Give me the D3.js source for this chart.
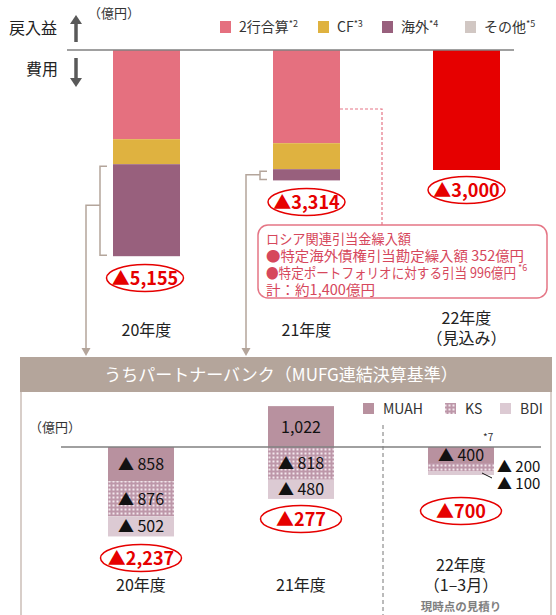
<!DOCTYPE html>
<meta charset="utf-8">
<style>
body { margin: 0; background: #fff; }
text { font-family: "Noto Sans CJK JP", "Noto Sans", sans-serif; }
</style>
<body>
<script src="https://cdn.jsdelivr.net/npm/d3@7"></script>
<script>

// ---- top chart data (億円, negative = 費用)
var years = ["20年度", "21年度", "22年度"];
var yearSub = ["", "", "（見込み）"];
var twoBanks = [-2230, -2330, 0];
var cf = [-625, -650, 0];
var overseas = [-2300, -280, 0];
var others = [0, 0, 0];
var plan = [0, 0, -3000];
var topTotals = [-5155, -3314, -3000];

var topSeries = [
  {name: "2行合算", note: "*2", color: "#e5707f", values: twoBanks},
  {name: "CF", note: "*3", color: "#dfb240", values: cf},
  {name: "海外", note: "*4", color: "#98607d", values: overseas},
  {name: "その他", note: "*5", color: "#d1c7c3", values: others}
];

// ---- partner bank data
var pbYears = ["20年度", "21年度", "22年度"];
var muah = [-858, 1022, -400];
var ks = [-876, -818, -200];
var bdi = [-502, -480, -100];
var pbTotals = [-2237, -277, -700];

var pbSeries = [
  {name: "MUAH", fill: "#b8919f", values: muah},
  {name: "KS", fill: "url(#dots)", values: ks},
  {name: "BDI", fill: "#dccad3", values: bdi}
];

var callout = [
  "ロシア関連引当金繰入額",
  "●特定海外債権引当勘定繰入額 352億円",
  "●特定ポートフォリオに対する引当 996億円",
  "計：約1,400億円"
];
var calloutWidth = [145, 258, 250, 109];

var fmt = d3.format(",");
function tri(v) { return v < 0 ? "▲" + fmt(-v) : fmt(v); }

var W = 556, H = 615;
var svg = d3.select("body").append("svg").attr("width", W).attr("height", H);

var defs = svg.append("defs");
var pat = defs.append("pattern").attr("id", "dots")
    .attr("width", 4).attr("height", 4).attr("patternUnits", "userSpaceOnUse");
pat.append("rect").attr("width", 4).attr("height", 4).attr("fill", "#bd97a9");
pat.append("rect").attr("x", 0.5).attr("y", 0.5).attr("width", 2).attr("height", 2).attr("fill", "#f3e8ed");

// ================= top chart
var xTop = d3.scalePoint().domain(years).range([146.5, 466.5]);
var yTop = d3.scaleLinear().domain([0, -6000]).range([50, 290]);
var bwTop = 67;

svg.append("text").attr("x", 88).attr("y", 18).attr("font-size", 13).attr("fill", "#333").text("（億円）");
svg.append("text").attr("x", 9).attr("y", 34).attr("font-size", 16).attr("fill", "#222").text("戻入益");
svg.append("text").attr("x", 26).attr("y", 75).attr("font-size", 16).attr("fill", "#222").text("費用");

function arrow(x, y0, y1) {
  var dir = y1 > y0 ? 1 : -1;
  svg.append("line").attr("x1", x).attr("x2", x).attr("y1", y0).attr("y2", y1 - dir * 8)
      .attr("stroke", "#595959").attr("stroke-width", 3.5);
  svg.append("path").attr("d", "M" + (x - 6) + "," + (y1 - dir * 9) + "L" + (x + 6) + "," + (y1 - dir * 9) + "L" + x + "," + y1 + "Z")
      .attr("fill", "#595959");
}
arrow(76, 42, 15);
arrow(76, 58, 87);

// legend
var lg = svg.append("g");
var lgX = [220, 318, 382, 465];
topSeries.forEach(function(s, i) {
  lg.append("rect").attr("x", lgX[i]).attr("y", 21).attr("width", 11).attr("height", 12).attr("fill", s.color);
  var t = lg.append("text").attr("x", lgX[i] + 19).attr("y", 32).attr("font-size", 14).attr("fill", "#333");
  t.append("tspan").text(s.name);
  t.append("tspan").attr("font-size", 9).attr("dy", -5).text(s.note);
});

// stacked bars
years.forEach(function(yr, i) {
  var acc = 0;
  topSeries.forEach(function(s) {
    var v = s.values[i];
    if (!v) return;
    svg.append("rect")
        .attr("x", xTop(yr) - bwTop / 2).attr("width", bwTop)
        .attr("y", yTop(acc)).attr("height", yTop(acc + v) - yTop(acc))
        .attr("fill", s.color);
    acc += v;
  });
  if (plan[i]) {
    svg.append("rect")
        .attr("x", xTop(yr) - bwTop / 2).attr("width", bwTop)
        .attr("y", yTop(0)).attr("height", yTop(plan[i]) - yTop(0))
        .attr("fill", "#e60000");
  }
});

svg.append("line").attr("x1", 67).attr("x2", 514).attr("y1", 50).attr("y2", 50)
    .attr("stroke", "#808080").attr("stroke-width", 1.5);

// total ellipses
function oval(cx, cy, label, rx) {
  svg.append("ellipse").attr("cx", cx).attr("cy", cy).attr("rx", rx).attr("ry", 13.5)
      .attr("fill", "#fff").attr("stroke", "#e60000").attr("stroke-width", 1.5);
  svg.append("text").attr("x", cx).attr("y", cy + 6.5).attr("text-anchor", "middle")
      .attr("font-size", 18).attr("font-weight", "bold").attr("fill", "#e60000").text(label);
}
var topOvalY = [278, 202, 190];
years.forEach(function(yr, i) {
  oval(xTop(yr) - (i === 0 ? 1.5 : 0), topOvalY[i], tri(topTotals[i]), 38.5);
});

// year labels
years.forEach(function(yr, i) {
  var yy = yearSub[i] ? 324 : 336;
  svg.append("text").attr("x", xTop(yr)).attr("y", yy).attr("text-anchor", "middle")
      .attr("font-size", 16).attr("fill", "#222").text(yr);
  if (yearSub[i]) svg.append("text").attr("x", xTop(yr)).attr("y", yy + 20).attr("text-anchor", "middle")
      .attr("font-size", 16).attr("fill", "#222").text(yearSub[i]);
});

// brackets from 海外 segments down to partner bank panel
var brc = "#b4a59b";
[0, 1].forEach(function(i) {
  var cx = xTop(years[i]);
  var top = yTop(twoBanks[i] + cf[i]), bot = yTop(twoBanks[i] + cf[i] + overseas[i]);
  var bx = cx - 46.5, ax = cx - 60.5, my = (top + bot) / 2 - (i === 0 ? 5 : 0);
  svg.append("path").attr("d", "M" + (bx + 7) + "," + (top + 2) + "H" + bx + "V" + (bot - 1) + "H" + (bx + 7))
      .attr("fill", "none").attr("stroke", brc).attr("stroke-width", 1.5);
  svg.append("path").attr("d", "M" + bx + "," + my + "H" + ax + "V" + 349)
      .attr("fill", "none").attr("stroke", brc).attr("stroke-width", 1.5);
  svg.append("path").attr("d", "M" + (ax - 4.5) + ",348L" + (ax + 4.5) + ",348L" + ax + ",356Z").attr("fill", brc);
});

// callout
var pc = "#e57585", tc = "#d6475c";
var c2 = xTop(years[1]) + bwTop / 2;
svg.append("path").attr("d", "M" + c2 + ",109H382V225")
    .attr("fill", "none").attr("stroke", pc).attr("stroke-width", 1.2).attr("stroke-dasharray", "3,2");
svg.append("rect").attr("x", 258).attr("y", 225).attr("width", 289).attr("height", 73).attr("rx", 10)
    .attr("fill", "#fff").attr("stroke", pc).attr("stroke-width", 1.5);
callout.forEach(function(line, i) {
  var y = 243.5 + i * 17.3;
  svg.append("text").attr("x", 266).attr("y", y).attr("font-size", 14)
      .attr("fill", tc).attr("textLength", calloutWidth[i]).attr("lengthAdjust", "spacingAndGlyphs")
      .text(line);
  if (i === 2) svg.append("text").attr("x", 266 + calloutWidth[i] + 2).attr("y", y - 7)
      .attr("font-size", 9).attr("fill", tc).text("*6");
});

// ================= partner bank panel
svg.append("rect").attr("x", 21).attr("y", 358).attr("width", 530).attr("height", 270)
    .attr("fill", "none").attr("stroke", "#cbbfb8").attr("stroke-width", 1.5);
svg.append("rect").attr("x", 20).attr("y", 357).attr("width", 532).attr("height", 35).attr("fill", "#b4a59b");
svg.append("text").attr("x", 281).attr("y", 381).attr("text-anchor", "middle")
    .attr("font-size", 17).attr("fill", "#fff").text("うちパートナーバンク（MUFG連結決算基準）");

var xPb = d3.scalePoint().domain(pbYears).range([141, 461]);
var yPb = d3.scaleLinear().domain([0, -1000]).range([447, 487]);
var bwPb = 66;

svg.append("text").attr("x", 29).attr("y", 432).attr("font-size", 13).attr("fill", "#333").text("（億円）");

// legend
var pbLgX = [363, 445, 500];
pbSeries.forEach(function(s, i) {
  svg.append("rect").attr("x", pbLgX[i]).attr("y", 403).attr("width", 11).attr("height", 11).attr("fill", s.fill);
  svg.append("text").attr("x", pbLgX[i] + 20).attr("y", 414).attr("font-size", 14).attr("fill", "#333").text(s.name);
});

// divider
svg.append("line").attr("x1", 383).attr("x2", 383).attr("y1", 425).attr("y2", 615)
    .attr("stroke", "#777").attr("stroke-width", 1).attr("stroke-dasharray", "4,3");

pbYears.forEach(function(yr, i) {
  var pos = 0, neg = 0, cx = xPb(yr);
  pbSeries.forEach(function(s, k) {
    var v = s.values[i], y0, y1;
    if (v >= 0) { y0 = pos; y1 = pos + v; pos = y1; }
    else { y0 = neg; y1 = neg + v; neg = y1; }
    var a = yPb(y0), b = yPb(y1);
    svg.append("rect").attr("x", cx - bwPb / 2).attr("width", bwPb)
        .attr("y", Math.min(a, b)).attr("height", Math.abs(b - a)).attr("fill", s.fill);
    var lbl = v < 0 ? "▲ " + fmt(-v) : fmt(v);
    var mid = (a + b) / 2;
    if (Math.abs(b - a) > 14) {
      svg.append("text").attr("x", cx).attr("y", mid + 6).attr("text-anchor", "middle")
          .attr("font-size", 16).attr("fill", "#111").text(lbl);
    } else {
      var ly = k === 1 ? mid - 0.5 : mid + 10;
      svg.append("text").attr("x", cx + bwPb / 2 + 3).attr("y", ly + 5.5)
          .attr("font-size", 15).attr("fill", "#111").text(lbl);
      if (k === 2) svg.append("line").attr("x1", cx + 21).attr("y1", mid).attr("x2", cx + 31).attr("y2", mid + 5)
          .attr("stroke", "#111").attr("stroke-width", 1);
    }
  });
});

svg.append("line").attr("x1", 61).attr("x2", 541).attr("y1", 447).attr("y2", 447)
    .attr("stroke", "#808080").attr("stroke-width", 1.5);
svg.append("text").attr("x", xPb(pbYears[2]) + 22).attr("y", 441).attr("font-size", 10).attr("fill", "#333").text("*7");

var pbOvalY = [558, 519, 511];
pbYears.forEach(function(yr, i) {
  oval(xPb(yr), pbOvalY[i], tri(pbTotals[i]), 40.5);
});

svg.append("text").attr("x", xPb(pbYears[0])).attr("y", 591).attr("text-anchor", "middle").attr("font-size", 16).attr("fill", "#222").text("20年度");
svg.append("text").attr("x", xPb(pbYears[1])).attr("y", 591).attr("text-anchor", "middle").attr("font-size", 16).attr("fill", "#222").text("21年度");
svg.append("text").attr("x", xPb(pbYears[2])).attr("y", 571).attr("text-anchor", "middle").attr("font-size", 16).attr("fill", "#222").text("22年度");
svg.append("text").attr("x", xPb(pbYears[2])).attr("y", 591).attr("text-anchor", "middle").attr("font-size", 16).attr("fill", "#222").text("（1–3月）");
svg.append("text").attr("x", xPb(pbYears[2])).attr("y", 611).attr("text-anchor", "middle").attr("font-size", 11.5)
    .attr("font-weight", "bold").attr("fill", "#7f7f7f").text("現時点の見積り");

</script>
</body>
